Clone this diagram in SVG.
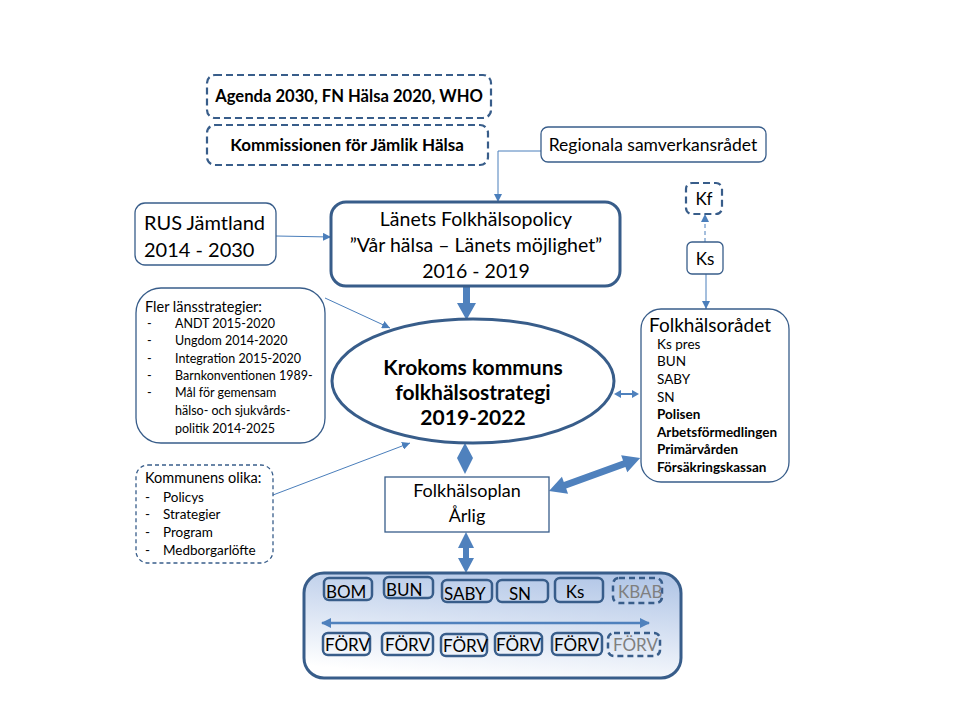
<svg xmlns="http://www.w3.org/2000/svg" width="960" height="720" viewBox="0 0 960 720">
<defs>
<linearGradient id="bg" x1="0.7" y1="0" x2="0.4" y2="1">
<stop offset="0" stop-color="#b3c7e7"/>
<stop offset="1" stop-color="#ffffff"/>
</linearGradient>
<marker id="ah" viewBox="0 0 10 10" refX="10" refY="5" markerWidth="8" markerHeight="8" markerUnits="userSpaceOnUse" orient="auto">
<path d="M0,0 L10,5 L0,10 z" fill="#4a7ebb"/>
</marker>
<marker id="ah2" viewBox="0 0 10 10" refX="9" refY="5" markerWidth="4" markerHeight="4" orient="auto-start-reverse">
<path d="M0,0 L10,5 L0,10 z" fill="#4f81bd"/>
</marker>
</defs>
<style>
text{font-family:Lato,"Open Sans","Liberation Sans",sans-serif;fill:#000}
.b{font-weight:bold}
.box{fill:#fff;stroke:#385d8a;stroke-width:1.3}
.thick{fill:#fff;stroke:#385d8a;stroke-width:3}
.dash{fill:#fff;stroke:#385d8a;stroke-width:2.2;stroke-dasharray:7 4}
.ib{fill:none;stroke:#385d8a;stroke-width:2.5}
.ibd{fill:none;stroke:#385d8a;stroke-width:2.5;stroke-dasharray:6 4}
.con{fill:none;stroke:#4a7ebb;stroke-width:1}
.blk{fill:#4f81bd}
.grey{fill:#7f7f7f}
</style>

<g id="connectors">
<line class="con" x1="276" y1="236" x2="331" y2="237" marker-end="url(#ah)"/>
<polyline class="con" points="541,151 498,151 498,202" marker-end="url(#ah)"/>
<line class="con" x1="325" y1="298" x2="390" y2="328" marker-end="url(#ah)"/>
<line class="con" x1="273" y1="495" x2="410" y2="443" marker-end="url(#ah)"/>
<line class="con" x1="705" y1="242" x2="705" y2="214" stroke-dasharray="4 3" marker-end="url(#ah)"/>
<line class="con" x1="706" y1="274" x2="706" y2="309" marker-end="url(#ah)"/>
<polygon class="blk" points="463,286 470,286 470,303 476,303 466.5,320 457,303 463,303"/>
<polygon class="blk" points="465,443 473,458 465,474 457,458"/>
<polygon class="blk" points="466,532 474,548 469,548 469,558 474,558 466,573 458,558 463,558 463,548 458,548"/>
<polygon class="blk" points="614,394 621,390 621,393 632,393 632,390 639,394 632,398 632,395 621,395 621,398"/>
<polygon class="blk" transform="translate(549,491) rotate(-19.9)" points="0,0 17,-9 17,-3.5 80,-3.5 80,-9 97,0 80,9 80,3.5 17,3.5 17,9"/>
</g>

<g id="agenda">
<rect class="dash" x="207" y="75" width="284" height="43" rx="8"/>
<text class="b" x="349" y="102" font-size="16.6" text-anchor="middle">Agenda 2030, FN Hälsa 2020, WHO</text>
</g>
<g id="kommissionen">
<rect class="dash" x="207" y="125" width="281" height="40" rx="8"/>
<text class="b" x="347" y="151" font-size="17" text-anchor="middle">Kommissionen för Jämlik Hälsa</text>
</g>
<g id="regionala">
<rect class="box" x="541" y="127" width="225" height="35" rx="7" stroke-width="1.8"/>
<text x="653" y="151" font-size="17.5" text-anchor="middle">Regionala samverkansrådet</text>
</g>
<g id="rus">
<rect class="box" x="135" y="203" width="141" height="62" rx="10"/>
<text x="144" y="230" font-size="20">RUS Jämtland</text>
<text x="144" y="257" font-size="20">2014 - 2030</text>
</g>
<g id="lanets">
<rect class="thick" x="331" y="202" width="289" height="84" rx="15"/>
<text x="476" y="226" font-size="19.5" text-anchor="middle">Länets Folkhälsopolicy</text>
<text x="476" y="252" font-size="19.5" text-anchor="middle">”Vår hälsa – Länets möjlighet”</text>
<text x="476" y="278" font-size="19.5" text-anchor="middle">2016 - 2019</text>
</g>
<g id="kf">
<rect class="dash" x="686" y="183" width="36" height="31" rx="6" stroke-width="2.5" stroke-dasharray="6 4"/>
<text x="704" y="205" font-size="17" text-anchor="middle">Kf</text>
</g>
<g id="ks">
<rect class="box" x="687" y="242" width="36" height="32" rx="5" stroke-width="2.5"/>
<text x="705" y="265" font-size="17" text-anchor="middle">Ks</text>
</g>
<g id="fler">
<rect class="box" x="136" y="288" width="189" height="155" rx="25"/>
<text x="145" y="312" font-size="14.5">Fler länsstrategier:</text>
<g font-size="12.5">
<text x="147" y="328">-</text><text x="175" y="328">ANDT 2015-2020</text>
<text x="147" y="345">-</text><text x="175" y="345">Ungdom 2014-2020</text>
<text x="147" y="363">-</text><text x="175" y="363">Integration 2015-2020</text>
<text x="147" y="380">-</text><text x="175" y="380">Barnkonventionen 1989-</text>
<text x="147" y="397">-</text><text x="175" y="397">Mål för gemensam</text>
<text x="175" y="415">hälso- och sjukvårds-</text>
<text x="175" y="433">politik 2014-2025</text>
</g>
</g>
<g id="strategi">
<ellipse cx="473" cy="381" rx="141" ry="62" fill="#fff" stroke="#385d8a" stroke-width="3"/>
<text class="b" x="473" y="375" font-size="21" text-anchor="middle">Krokoms kommuns</text>
<text class="b" x="473" y="400" font-size="21" text-anchor="middle">folkhälsostrategi</text>
<text class="b" x="473" y="425" font-size="21" text-anchor="middle">2019-2022</text>
</g>
<g id="radet">
<rect class="box" x="641" y="309" width="148" height="173" rx="20" stroke-width="1.8"/>
<text x="649" y="332" font-size="19">Folkhälsorådet</text>
<g font-size="13.5">
<text x="657" y="349">Ks pres</text>
<text x="657" y="366">BUN</text>
<text x="657" y="384">SABY</text>
<text x="657" y="402">SN</text>
<text class="b" x="657" y="419">Polisen</text>
<text class="b" x="657" y="437">Arbetsförmedlingen</text>
<text class="b" x="657" y="454">Primärvården</text>
<text class="b" x="657" y="472">Försäkringskassan</text>
</g>
</g>
<g id="kommunens">
<rect class="box" x="136" y="465" width="137" height="98" rx="12" stroke-dasharray="4 3"/>
<text x="145" y="483" font-size="14.5">Kommunens  olika:</text>
<g font-size="13.5">
<text x="145" y="502">-</text><text x="163" y="502">Policys</text>
<text x="145" y="519">-</text><text x="163" y="519">Strategier</text>
<text x="145" y="537">-</text><text x="163" y="537">Program</text>
<text x="145" y="555">-</text><text x="163" y="555">Medborgarlöfte</text>
</g>
</g>
<g id="plan">
<rect class="box" x="385" y="477" width="164" height="55" rx="0" stroke-width="1"/>
<text x="467" y="497" font-size="18" text-anchor="middle">Folkhälsoplan</text>
<text x="467" y="522" font-size="18" text-anchor="middle">Årlig</text>
</g>
<g id="organisation">
<rect x="304" y="573" width="377" height="105" rx="20" fill="url(#bg)" stroke="#385d8a" stroke-width="3"/>
<line x1="322" y1="623" x2="649" y2="623" stroke="#4f81bd" stroke-width="2.5" marker-start="url(#ah2)" marker-end="url(#ah2)"/>
<g font-size="17">
<rect class="ib" x="324" y="578" width="48" height="22" rx="5"/><text x="326" y="598">BOM</text>
<rect class="ib" x="384" y="577" width="49" height="21" rx="5"/><text x="386" y="596">BUN</text>
<rect class="ib" x="442" y="580" width="50" height="22" rx="5"/><text x="444" y="600">SABY</text>
<rect class="ib" x="497" y="580" width="51" height="22" rx="5"/><text x="520" y="600" text-anchor="middle">SN</text>
<rect class="ib" x="555" y="578" width="48" height="24" rx="5"/><text x="575" y="598" text-anchor="middle">Ks</text>
<rect class="ibd" x="613" y="578" width="49" height="25" rx="6"/><text class="grey" x="618" y="598">KBAB</text>
<rect class="ib" x="323" y="633" width="47" height="22" rx="5"/><text x="325" y="651">FÖRV</text>
<rect class="ib" x="382" y="633" width="51" height="22" rx="5"/><text x="385" y="651">FÖRV</text>
<rect class="ib" x="441" y="634" width="46" height="22" rx="5"/><text x="443" y="652">FÖRV</text>
<rect class="ib" x="495" y="633" width="47" height="22" rx="5"/><text x="496" y="651">FÖRV</text>
<rect class="ib" x="552" y="633" width="50" height="22" rx="5"/><text x="554" y="651">FÖRV</text>
<rect class="ibd" x="608" y="633" width="52" height="23" rx="6"/><text class="grey" x="613" y="651">FÖRV</text>
</g>
</g>
</svg>
